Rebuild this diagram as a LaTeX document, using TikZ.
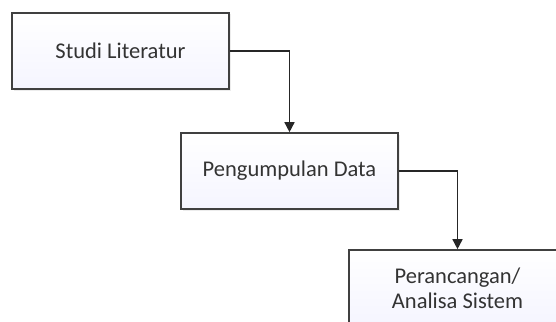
\documentclass[tikz,border=0pt]{standalone}
\usepackage{fontspec}
\setmainfont{Carlito}
\usetikzlibrary{arrows.meta,shadows}
\definecolor{edge}{HTML}{404040}
\begin{document}
\begin{tikzpicture}[x=1pt,y=-1pt,
  box/.style={draw=edge,line width=1.6pt,minimum width=217pt,minimum height=76pt,
    top color=white,bottom color=blue!4!white,
    drop shadow={opacity=0.15,shadow xshift=1.5pt,shadow yshift=-1.5pt},
    font=\fontsize{22.5}{25}\selectfont,text=black!80,align=center,inner sep=0pt},
  conn/.style={draw=black!85,line width=1.5pt,-{Triangle[length=10pt,width=10pt]}}]
\useasboundingbox (0,0) rectangle (556,321);
\clip (0,0) rectangle (556,321);
\node[box] (b1) at (120.5,51) {Studi Literatur};
\node[box] (b2) at (289.5,171) {Pengumpulan Data};
\node[box] (b3) at (457.5,288) {Perancangan/\\Analisa Sistem};
\draw[conn] (b1.east) -| (b2.north);
\draw[conn] (b2.east) -| (b3.north);
\end{tikzpicture}
\end{document}
